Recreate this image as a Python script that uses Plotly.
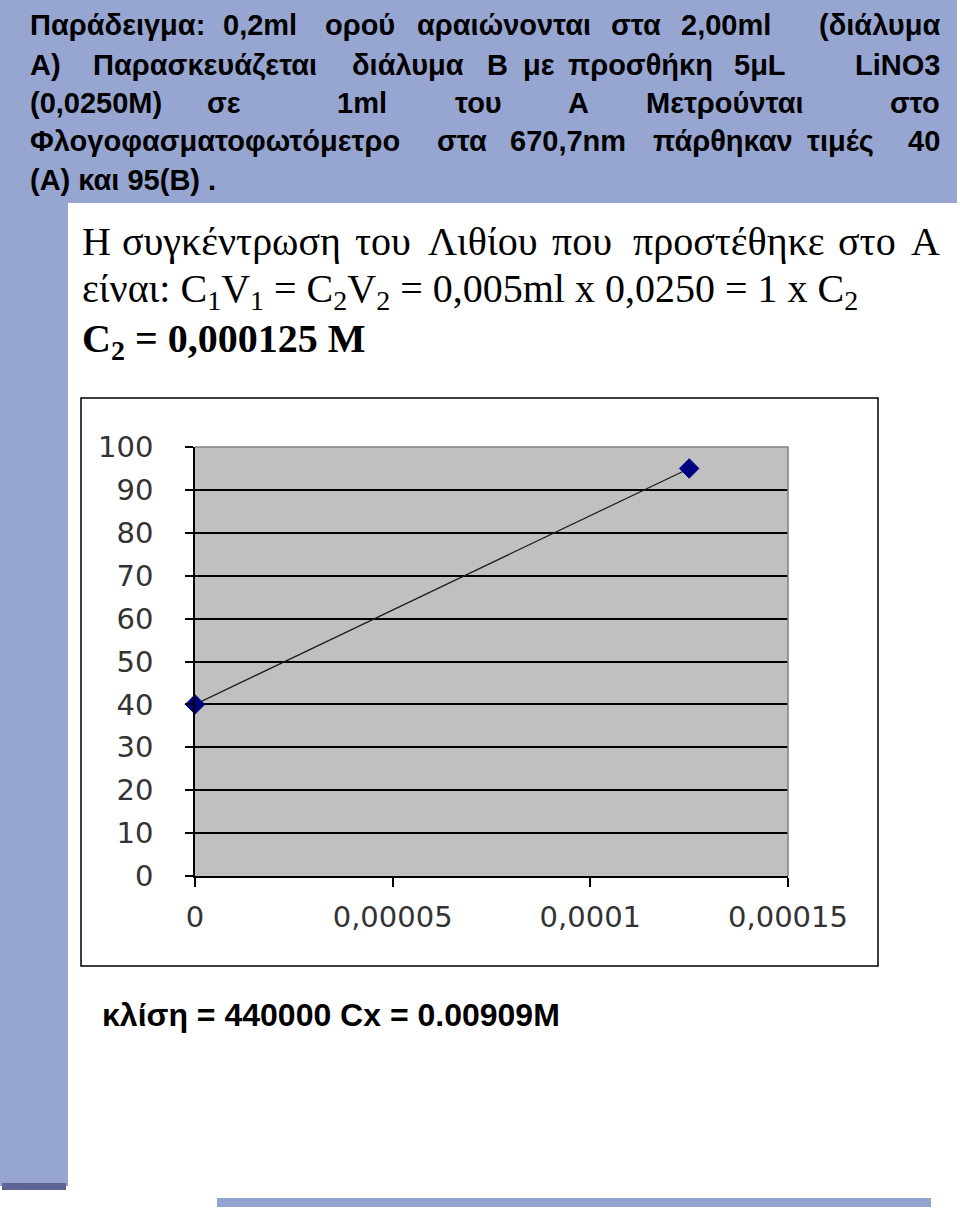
import plotly.graph_objects as go

# calibration points: Li added (M) vs emission reading
conc = [0, 0.000125]
signal = [40, 95]

x_ticks = [0, 0.00005, 0.0001, 0.00015]
x_labels = ["0", "0,00005", "0,0001", "0,00015"]
y_ticks = [0, 10, 20, 30, 40, 50, 60, 70, 80, 90, 100]

W, H = 960, 1212
BAND = "#97A5D1"
SANS = "Liberation Sans"
SERIF = "Liberation Serif"
TICKFONT = "DejaVu Sans"


def px(x):
    return x / W


def py(y):
    return 1 - y / H


# justified text lines: (word, x in px, anchor)
title_lines = [
    [("Παράδειγμα:", 28, "left"), ("0,2ml", 260, "center"), ("ορού", 360, "center"),
     ("αραιώνονται", 504, "center"), ("στα", 636, "center"), ("2,00ml", 726, "center"),
     ("(διάλυμα", 942, "right")],
    [("A)", 28, "left"), ("Παρασκευάζεται", 205, "center"), ("διάλυμα", 408, "center"),
     ("B", 497, "center"), ("με", 539, "center"), ("προσθήκη", 640, "center"),
     ("5μL", 760, "center"), ("LiNO3", 942, "right")],
    [("(0,0250M)", 28, "left"), ("σε", 224, "center"), ("1ml", 362, "center"),
     ("του", 478, "center"), ("Α", 578, "center"), ("Μετρούνται", 725, "center"),
     ("στο", 942, "right")],
    [("Φλογοφασματοφωτόμετρο", 28, "left"), ("στα", 462, "center"), ("670,7nm", 568, "center"),
     ("πάρθηκαν", 723, "center"), ("τιμές", 840, "center"), ("40", 942, "right")],
    [("(A) και 95(B) .", 28, "left")],
]
title_y = [25, 65, 103, 141, 180]

serif_line1 = [("Η", 80, "left"), ("συγκέντρωση", 231, "center"), ("του", 383, "center"),
               ("Λιθίου", 483, "center"), ("που", 582, "center"), ("προστέθηκε", 729, "center"),
               ("στο", 867, "center"), ("Α", 942, "right")]

fig = go.Figure()
fig.add_trace(go.Scatter(
    x=conc, y=signal, mode="lines+markers", cliponaxis=False,
    line=dict(color="#1a1a1a", width=1.2),
    marker=dict(symbol="diamond", size=15, color="#000080", line=dict(color="#000080", width=1)),
    showlegend=False, hoverinfo="x+y"))

shapes = [
    dict(type="rect", xref="paper", yref="paper", x0=px(0), x1=px(957), y0=py(203), y1=py(0),
         fillcolor=BAND, line=dict(width=0), layer="below"),
    dict(type="rect", xref="paper", yref="paper", x0=px(0), x1=px(68), y0=py(1186), y1=py(0),
         fillcolor=BAND, line=dict(width=0), layer="below"),
    dict(type="rect", xref="paper", yref="paper", x0=px(2), x1=px(66), y0=py(1190), y1=py(1183),
         fillcolor="#5C6496", line=dict(width=0), layer="below"),
    dict(type="rect", xref="paper", yref="paper", x0=px(217), x1=px(931), y0=py(1207), y1=py(1198),
         fillcolor="#93A2CE", line=dict(width=0), layer="below"),
    # chart frame
    dict(type="rect", xref="paper", yref="paper", x0=px(81), x1=px(878), y0=py(966), y1=py(398),
         line=dict(color="black", width=1.5), layer="below"),
    # plot area border top/right
    dict(type="path", xref="paper", yref="paper",
         path=f"M {px(195)},{py(447)} L {px(788)},{py(447)} L {px(788)},{py(876)}",
         line=dict(color="#808080", width=1.5), layer="above"),
]

annotations = []
for words, yc in zip(title_lines, title_y):
    for w, x, anc in words:
        annotations.append(dict(text=f"<b>{w}</b>", x=px(x), y=py(yc), xref="paper", yref="paper",
                                xanchor=anc, yanchor="middle", showarrow=False,
                                font=dict(family=SANS, size=29, color="black")))

for w, x, anc in serif_line1:
    annotations.append(dict(text=w, x=px(x), y=py(241), xref="paper", yref="paper",
                            xanchor=anc, yanchor="middle", showarrow=False,
                            font=dict(family=SERIF, size=40, color="black")))

annotations.append(dict(
    text="είναι: C<sub>1</sub>V<sub>1</sub> = C<sub>2</sub>V<sub>2</sub> = 0,005ml x 0,0250 = 1 x C<sub>2</sub>",
    x=px(80), y=py(291), xref="paper", yref="paper", xanchor="left", yanchor="middle",
    showarrow=False, font=dict(family=SERIF, size=40, color="black")))
annotations.append(dict(
    text="<b>C<sub>2</sub> = 0,000125 M</b>",
    x=px(80), y=py(341), xref="paper", yref="paper", xanchor="left", yanchor="middle",
    showarrow=False, font=dict(family=SERIF, size=40, color="black")))
annotations.append(dict(
    text="<b>κλίση = 440000 Cx = 0.00909M</b>",
    x=px(100), y=py(1015), xref="paper", yref="paper", xanchor="left", yanchor="middle",
    showarrow=False, font=dict(family=SANS, size=32, color="black")))

fig.update_layout(
    template="none",
    width=W, height=H, autosize=False, margin=dict(l=0, r=0, t=0, b=0, pad=0),
    paper_bgcolor="white", plot_bgcolor="#C0C0C0",
    shapes=shapes, annotations=annotations, showlegend=False,
    xaxis=dict(domain=[px(195), px(788)], range=[0, 0.00015], tickvals=x_ticks, ticktext=x_labels,
               ticks="outside", ticklen=9, tickwidth=1.5, tickcolor="black", automargin=False,
               showline=True, linecolor="black", linewidth=1.5, showgrid=False, zeroline=False,
               ticklabelstandoff=5, tickfont=dict(family=TICKFONT, size=29, color="#333")),
    yaxis=dict(domain=[py(876), py(447)], range=[0, 100], tickvals=y_ticks, automargin=False,
               ticks="outside", ticklen=8, tickwidth=1.5, tickcolor="black",
               showline=True, linecolor="black", linewidth=1.5,
               showgrid=True, gridcolor="black", gridwidth=1.5, zeroline=False,
               ticklabelstandoff=26, tickfont=dict(family=TICKFONT, size=29, color="#333")),
)

# drop the page's default body margin so the figure sits at the window's corner
fig.write_html("out.html", config={"displayModeBar": False},
               post_script="document.body.style.margin = '0px';")
